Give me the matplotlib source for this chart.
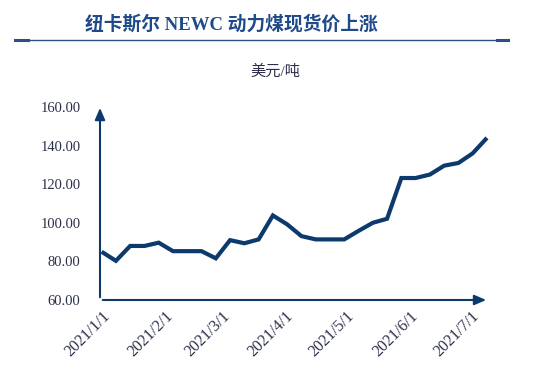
import numpy as np
import pandas as pd
import matplotlib.pyplot as plt
import matplotlib.dates as mdates

# Weekly NEWC thermal coal spot price (USD/t)
dates = pd.date_range("2021-01-01", periods=28, freq="7D")
prices = [85.0, 80.3, 88.0, 88.0, 89.7, 85.3, 85.3, 85.3, 81.6, 91.0,
          89.4, 91.4, 103.8, 99.2, 93.1, 91.4, 91.4, 91.4, 95.8, 100.0,
          102.1, 123.2, 123.2, 125.0, 129.6, 131.0, 136.0, 144.0]
tick_dates = pd.date_range("2021-01-01", periods=7, freq="MS")
tick_labels = [f"{d.year}/{d.month}/{d.day}" for d in tick_dates]
yticks = [60, 80, 100, 120, 140, 160]

navy = "#0D3A6C"
title_color = "#1F4A8A"
text_color = "#2B2F4A"

fig = plt.figure(figsize=(5.5, 3.78), dpi=100)
fig.patch.set_facecolor("white")

# title and header rule
fig.text(0.42, 0.935, "纽卡斯尔 NEWC 动力煤现货价上涨", ha="center", va="center",
         fontsize=13.5, fontweight="bold", color=title_color,
         family=["Liberation Serif", "Noto Sans CJK SC"])
fig.add_artist(plt.Line2D([15 / 550, 508 / 550], [1 - 40 / 378] * 2, color="#2E4E86", lw=1.0))
fig.add_artist(plt.Line2D([15 / 550, 28 / 550], [1 - 40 / 378] * 2, color="#2E4E86", lw=2.2))
fig.add_artist(plt.Line2D([497 / 550, 508 / 550], [1 - 40 / 378] * 2, color="#2E4E86", lw=2.2))
fig.text(0.5, 1 - 72 / 378, "美元/吨", ha="center", va="center", fontsize=11,
         color=text_color, family=["Liberation Serif", "Noto Sans CJK SC"])

ax = fig.add_axes([100 / 550, 1 - 300 / 378, 389 / 550, 193 / 378])
ax.plot(dates, prices, color=navy, lw=3.0, solid_joinstyle="miter", solid_capstyle="butt")

ax.set_ylim(60, 160)
ax.set_xlim(pd.Timestamp("2021-01-01") - pd.Timedelta(days=0.8), pd.Timestamp("2021-07-10"))
ax.set_yticks(yticks)
ax.set_yticklabels([f"{v:.2f}" for v in yticks])
ax.set_xticks(tick_dates)
ax.set_xticklabels(tick_labels, rotation=45, ha="right", rotation_mode="anchor")

for s in ax.spines.values():
    s.set_visible(False)
ax.tick_params(length=0, colors=text_color)
ax.tick_params(axis="y", pad=14, labelsize=10.5)
ax.tick_params(axis="x", pad=6, labelsize=11.5)
for lab in ax.get_xticklabels() + ax.get_yticklabels():
    lab.set_fontfamily("Liberation Serif")

# arrowed axes
arrow = dict(arrowstyle="-|>,head_length=0.7,head_width=0.3", color=navy, lw=1.5)
ax.annotate("", xy=(0, 1.01), xytext=(0, 0), xycoords="axes fraction",
            arrowprops=arrow, annotation_clip=False)
ax.annotate("", xy=(1.0, 0), xytext=(0, 0), xycoords="axes fraction",
            arrowprops=arrow, annotation_clip=False)

fig.savefig("out.png", dpi=100)
